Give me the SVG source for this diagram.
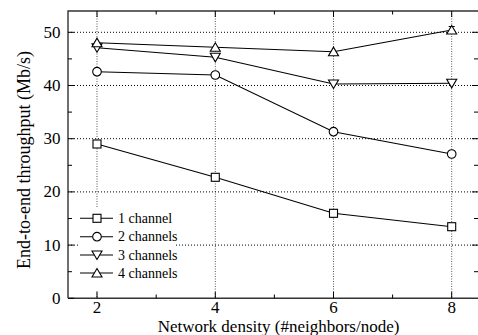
<svg xmlns="http://www.w3.org/2000/svg" width="478" height="335" viewBox="0 0 478 335">
<style>
text{font-family:"Liberation Serif","Times New Roman",serif;fill:#000}
.tick{font-size:17px}
.lab{font-size:17px}
.ylab{font-size:18px}
.leg{font-size:14px}
.gridv{stroke:#555;stroke-width:1;stroke-dasharray:1 1.5;fill:none}
.gridh{stroke:#000;stroke-width:1;stroke-dasharray:1 2;fill:none}
.frame{stroke:#333;stroke-width:1.4;fill:none}
.tk{stroke:#000;stroke-width:1;fill:none}
.ln{stroke:#000;stroke-width:1.1;fill:none}
.mk{stroke:#000;stroke-width:1.1;fill:#fff}
</style>
<defs>
<rect id="sq" x="-4" y="-4" width="8" height="8" class="mk"/>
<circle id="ci" r="4.3" class="mk"/>
<path id="dn" d="M-5,-4 L5,-4 L0,4.5 Z" class="mk"/>
<path id="up" d="M-5,4 L5,4 L0,-4.5 Z" class="mk"/>
</defs>
<rect width="478" height="335" fill="#fff"/>
<g id="grid">
<path class="gridv" d="M97,11V298M215.3,11V298M333.5,11V298M451.7,11V298"/>
<path class="gridh" d="M68,32.3H478M68,85.5H478M68,138.7H478M68,191.9H478M68,245.1H478"/>
</g>
<g id="axes">
<path class="frame" d="M68,298.3V11H479M68,298.3H479"/>
<path class="tk" d="M68,298.3H74M68,245.1H74M68,191.9H74M68,138.7H74M68,85.5H74M68,32.3H74M68,271.7H72M68,218.5H72M68,165.3H72M68,112.1H72M68,58.9H72"/>
<path class="tk" d="M478,245.1H472M478,191.9H472M478,138.7H472M478,85.5H472M478,32.3H472M478,271.7H474M478,218.5H474M478,165.3H474M478,112.1H474M478,58.9H474"/>
<path class="tk" d="M97,298.3V292M215.3,298.3V292M333.5,298.3V292M451.7,298.3V292M156.2,298.3V294.5M274.4,298.3V294.5M392.6,298.3V294.5"/>
<path class="tk" d="M97,11V17M215.3,11V17M333.5,11V17M451.7,11V17M156.2,11V14.5M274.4,11V14.5M392.6,11V14.5"/>
<g class="tick" text-anchor="end">
<text x="60.5" y="303.8">0</text>
<text x="60.5" y="250.6">10</text>
<text x="60.5" y="197.4">20</text>
<text x="60.5" y="144.2">30</text>
<text x="60.5" y="91">40</text>
<text x="60.5" y="37.8">50</text>
</g>
<g class="tick" text-anchor="middle">
<text x="97" y="313">2</text>
<text x="215.3" y="313">4</text>
<text x="333.5" y="313">6</text>
<text x="451.7" y="313">8</text>
</g>
<text class="lab" x="278.5" y="332" text-anchor="middle">Network density (#neighbors/node)</text>
<text class="ylab" transform="translate(30,160) rotate(-90)" text-anchor="middle">End-to-end throughput (Mb/s)</text>
</g>
<g id="connectors">
<polyline class="ln" points="97,144 215.3,177.3 333.5,213.3 451.7,226.7"/>
<polyline class="ln" points="97,71.7 215.3,75 333.5,131.7 451.7,154"/>
<polyline class="ln" points="97,47.7 215.3,57.3 333.5,84 451.7,83.3"/>
<polyline class="ln" points="97,42.7 215.3,47.3 333.5,51.7 451.7,30"/>
<path class="tk" d="M333.5,209.5V217M330.5,209.5H336.5M330.5,217H336.5M451.7,26.5V33.5M448.7,26.5H454.7M448.7,33.5H454.7"/>
</g>
<g id="series-1-channel">
<use href="#sq" x="97" y="144"/><use href="#sq" x="215.3" y="177.3"/><use href="#sq" x="333.5" y="213.3"/><use href="#sq" x="451.7" y="226.7"/>
</g>
<g id="series-2-channels">
<use href="#ci" x="97" y="71.7"/><use href="#ci" x="215.3" y="75"/><use href="#ci" x="333.5" y="131.7"/><use href="#ci" x="451.7" y="154"/>
</g>
<g id="series-3-channels">
<use href="#dn" x="97" y="47.7"/><use href="#dn" x="215.3" y="57.3"/><use href="#dn" x="333.5" y="84"/><use href="#dn" x="451.7" y="83.3"/>
</g>
<g id="series-4-channels">
<use href="#up" x="97" y="42.7"/><use href="#up" x="215.3" y="47.3"/><use href="#up" x="333.5" y="51.7"/><use href="#up" x="451.7" y="30"/>
</g>
<g id="legend">
<rect x="78" y="208" width="98" height="82" fill="#fff"/>
<path class="ln" d="M80,218.3H113M80,236.7H113M80,255H113M80,273H113"/>
<use href="#sq" x="97" y="218.3"/>
<use href="#ci" x="97" y="236.7"/>
<use href="#dn" x="97" y="255"/>
<use href="#up" x="97" y="273"/>
<g class="leg">
<text x="118" y="223">1 channel</text>
<text x="118" y="241.4">2 channels</text>
<text x="118" y="259.7">3 channels</text>
<text x="118" y="277.7">4 channels</text>
</g>
</g>
</svg>
